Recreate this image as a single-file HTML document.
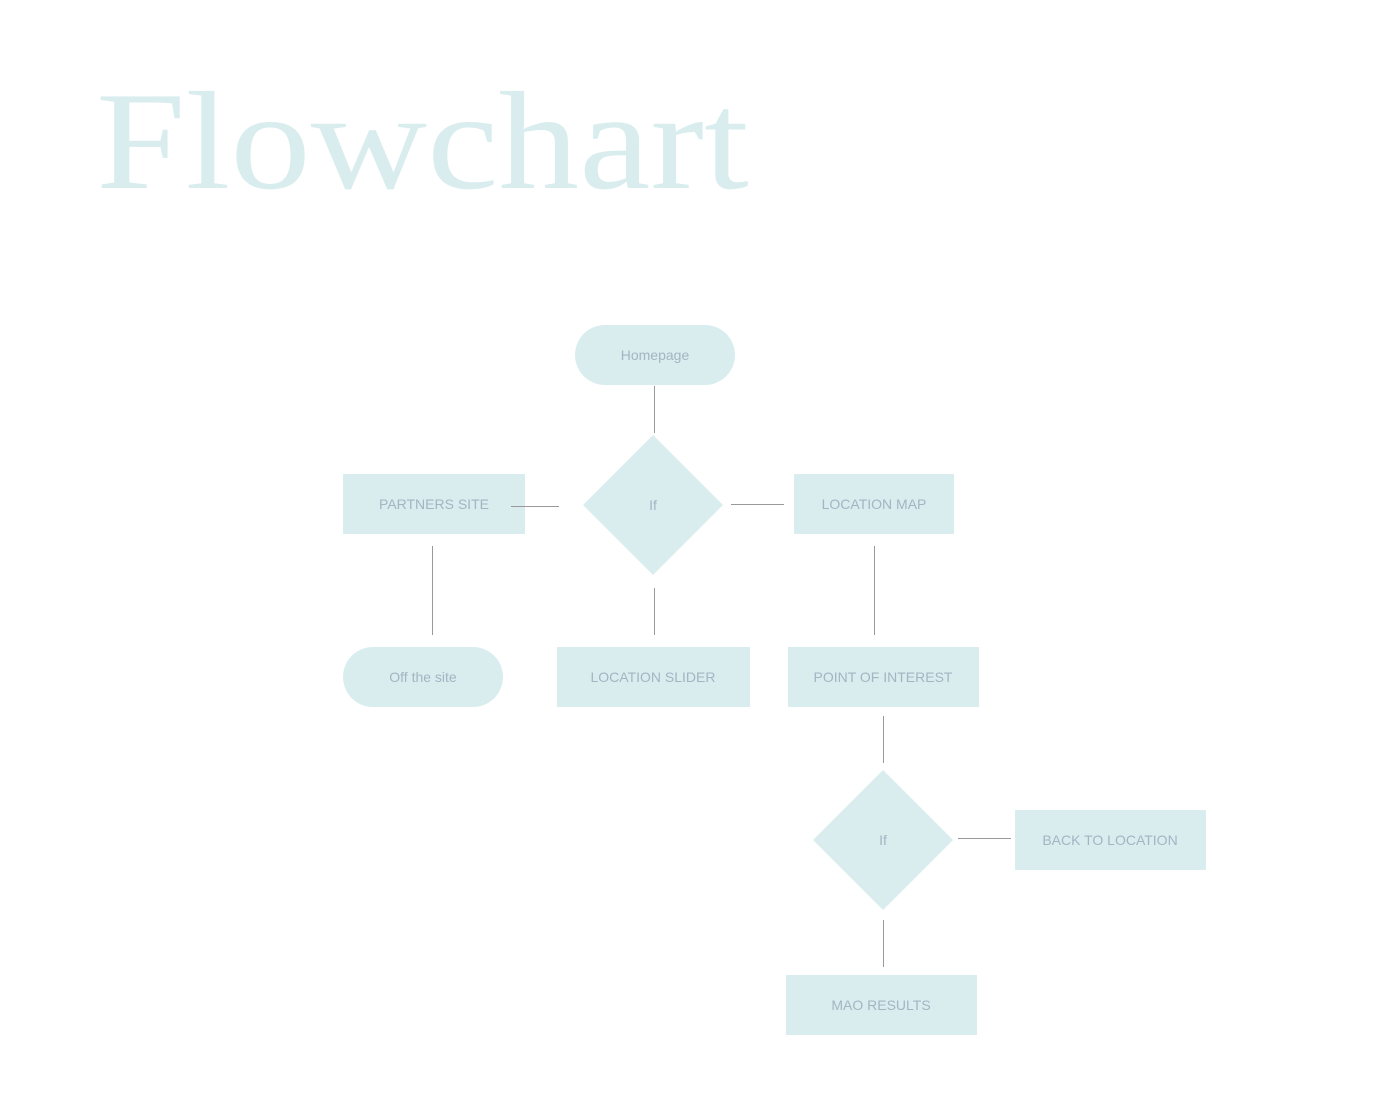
<!DOCTYPE html>
<html><head><meta charset="utf-8"><style>
html,body{margin:0;padding:0;background:#fff;}
body{width:1400px;height:1096px;position:relative;overflow:hidden;}
.title{position:absolute;left:96px;top:72px;font-family:"Liberation Serif",serif;font-size:140px;line-height:140px;color:#d9edef;white-space:nowrap;transform:scaleX(1.15);transform-origin:0 0;}
</style></head><body>
<div class="title">Flowchart</div>
<svg width="1400" height="1096" style="position:absolute;left:0;top:0" xmlns="http://www.w3.org/2000/svg">
<g fill="#d9edef">
<rect x="575" y="325" width="160" height="60" rx="30"/>
<polygon points="653,435 723,505 653,575 583,505"/>
<rect x="343" y="474" width="182" height="60"/>
<rect x="794" y="474" width="160" height="60"/>
<rect x="343" y="647" width="160" height="60" rx="30"/>
<rect x="557" y="647" width="193" height="60"/>
<rect x="788" y="647" width="191" height="60"/>
<polygon points="883,770 953,840 883,910 813,840"/>
<rect x="1015" y="810" width="191" height="60"/>
<rect x="786" y="975" width="191" height="60"/>
</g>
<g stroke="#999" stroke-width="1">
<line x1="654.5" y1="386" x2="654.5" y2="433"/>
<line x1="511" y1="506.5" x2="559" y2="506.5"/>
<line x1="731" y1="504.5" x2="784" y2="504.5"/>
<line x1="432.5" y1="546" x2="432.5" y2="635"/>
<line x1="654.5" y1="588" x2="654.5" y2="635"/>
<line x1="874.5" y1="546" x2="874.5" y2="635"/>
<line x1="883.5" y1="716" x2="883.5" y2="763"/>
<line x1="958" y1="838.5" x2="1011" y2="838.5"/>
<line x1="883.5" y1="920" x2="883.5" y2="967"/>
</g>
<g fill="#a3b5c2" font-family="Liberation Sans, sans-serif" font-size="14" text-anchor="middle">
<text x="655" y="360">Homepage</text>
<text x="653" y="510">If</text>
<text x="434" y="509">PARTNERS SITE</text>
<text x="874" y="509">LOCATION MAP</text>
<text x="423" y="682">Off the site</text>
<text x="653" y="682">LOCATION SLIDER</text>
<text x="883" y="682">POINT OF INTEREST</text>
<text x="883" y="845">If</text>
<text x="1110" y="845">BACK TO LOCATION</text>
<text x="881" y="1010">MAO RESULTS</text>
</g>
</svg>
</body></html>
